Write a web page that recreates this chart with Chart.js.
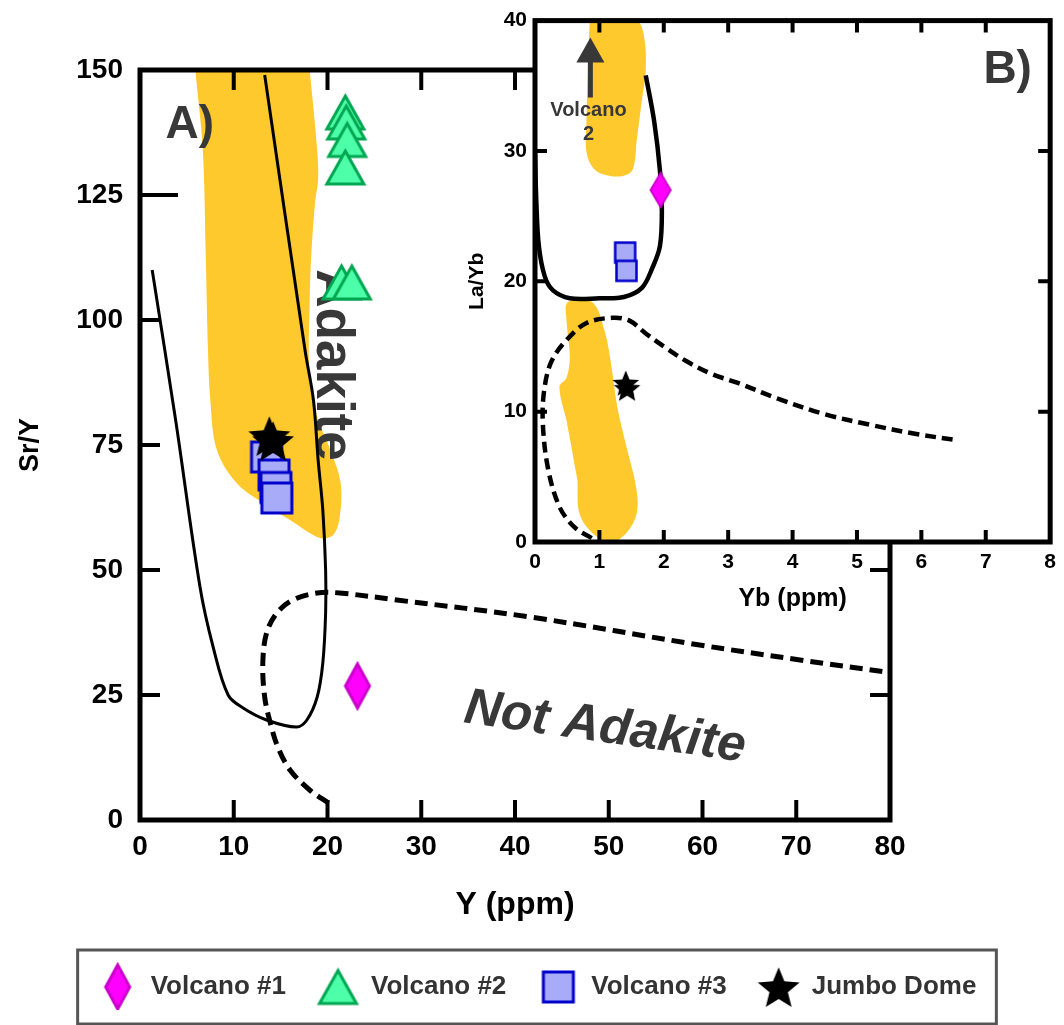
<!DOCTYPE html>
<html>
<head>
<meta charset="utf-8">
<script src="https://cdn.jsdelivr.net/npm/chart.js@4.4.1/dist/chart.umd.min.js"></script>
<style>
    body { margin: 0; background: #fff; }
    #wrap { position: relative; width: 1064px; height: 1025px; }
    #chartA { position: absolute; left: 0; top: 0; }
    #chartB { position: absolute; left: 440px; top: 0; }
</style>
</head>
<body>
<div id="wrap">
    <canvas id="chartA" width="1064" height="1025"></canvas>
    <canvas id="chartB" width="624" height="640"></canvas>
</div>
<script>
/*
* Данные панели A: Y (ppm) - Sr/Y
*/
const volcano1A = [{x: 23.2, y: 26.8}];
const volcano2A = [
    {x: 21.9, y: 141.5}, {x: 22.0, y: 139.5}, {x: 22.1, y: 136},
    {x: 21.9, y: 130.5}, {x: 21.5, y: 107.5}, {x: 22.6, y: 107.5}
];
const volcano3A = [{x: 13.5, y: 72.6}, {x: 14.3, y: 69}, {x: 14.5, y: 66.5}, {x: 14.6, y: 64.4}];
const jumboA = [{x: 13.8, y: 76.8}, {x: 14.2, y: 75.8}];

// жёлтое поле
const fieldA = [
    {x: 5.9, y: 150}, {x: 6.7, y: 134}, {x: 7.0, y: 114}, {x: 7.25, y: 94}, {x: 7.5, y: 84},
    {x: 8.2, y: 74}, {x: 10.3, y: 67.4}, {x: 13.1, y: 63.4}, {x: 16, y: 60}, {x: 19.2, y: 56.4},
    {x: 20.6, y: 57}, {x: 21.3, y: 60.6}, {x: 21.4, y: 67.4}, {x: 20.3, y: 74}, {x: 18.9, y: 80.6},
    {x: 18.1, y: 88}, {x: 18.1, y: 104}, {x: 18.3, y: 114}, {x: 18.7, y: 124}, {x: 19, y: 128},
    {x: 18.9, y: 134}, {x: 18.1, y: 150}
];
// граница адакитов (сплошная)
const adakiteLineA = [
    {x: 1.3, y: 110}, {x: 3.8, y: 80}, {x: 6.4, y: 46.6}, {x: 7.8, y: 34.6}, {x: 9.4, y: 25},
    {x: 11, y: 22.4}, {x: 13.5, y: 20}, {x: 16.7, y: 18.6}, {x: 17.8, y: 20}, {x: 18.9, y: 24.6},
    {x: 19.5, y: 31.4}, {x: 19.8, y: 41.4}, {x: 19.8, y: 50}, {x: 19.5, y: 62}, {x: 19, y: 72},
    {x: 18.5, y: 84}, {x: 17.6, y: 94}, {x: 13.3, y: 149}
];
// граница неадакитов (пунктир)
const notAdakiteLineA = [
    {x: 20.1, y: 3.4}, {x: 18.1, y: 6}, {x: 16, y: 10}, {x: 14.7, y: 14.6}, {x: 13.9, y: 19.4},
    {x: 13.3, y: 24.6}, {x: 13.1, y: 31.4}, {x: 13.5, y: 37.4}, {x: 14.6, y: 41.4}, {x: 16.3, y: 44},
    {x: 18.9, y: 45.4}, {x: 21.3, y: 45.4}, {x: 27.4, y: 44}, {x: 41.6, y: 40.6}, {x: 59.7, y: 35},
    {x: 70.4, y: 32}, {x: 80, y: 29.5}
];

/*
* Данные панели B: Yb (ppm) - La/Yb
*/
const volcano1B = [{x: 1.95, y: 27}];
const volcano3B = [{x: 1.4, y: 22.2}, {x: 1.42, y: 20.8}];
const jumboB = [{x: 1.41, y: 12.2}, {x: 1.43, y: 11.8}];

const volcano2FieldB = [
    {x: 0.85, y: 40}, {x: 1.57, y: 40}, {x: 1.69, y: 38.9}, {x: 1.72, y: 36.2}, {x: 1.66, y: 33.9},
    {x: 1.58, y: 30.8}, {x: 1.52, y: 28.6}, {x: 1.38, y: 28.1}, {x: 1.15, y: 28.1}, {x: 0.92, y: 28.6},
    {x: 0.8, y: 29.9}, {x: 0.8, y: 32.3}, {x: 0.82, y: 36.2}, {x: 0.85, y: 40}
];
const lowerFieldB = [
    {x: 0.66, y: 4.7}, {x: 0.69, y: 2.2}, {x: 0.89, y: 0.7}, {x: 1.18, y: 0}, {x: 1.42, y: 0.7},
    {x: 1.58, y: 2.2}, {x: 1.57, y: 4.2}, {x: 1.42, y: 7.3}, {x: 1.28, y: 10.3}, {x: 1.18, y: 13.7},
    {x: 1.08, y: 16.2}, {x: 0.89, y: 18.4}, {x: 0.51, y: 18.4}, {x: 0.49, y: 17}, {x: 0.54, y: 14.2},
    {x: 0.49, y: 12.6}, {x: 0.38, y: 11.9}, {x: 0.49, y: 9.3}, {x: 0.66, y: 4.7}
];
const adakiteLineB = [
    {x: 1.72, y: 35.8}, {x: 1.85, y: 32.3}, {x: 1.94, y: 28.5}, {x: 1.97, y: 25.4}, {x: 1.94, y: 22.7},
    {x: 1.82, y: 21}, {x: 1.66, y: 19.5}, {x: 1.38, y: 18.8}, {x: 1.0, y: 18.7}, {x: 0.54, y: 18.7},
    {x: 0.28, y: 19.3}, {x: 0.15, y: 20.4}, {x: 0.06, y: 22.7}, {x: 0.02, y: 26.2}, {x: 0, y: 30}
];
const notAdakiteLineB = [
    {x: 0.88, y: 0.3}, {x: 0.62, y: 1.1}, {x: 0.38, y: 2.7}, {x: 0.2, y: 5.7}, {x: 0.12, y: 9.3},
    {x: 0.15, y: 11.9}, {x: 0.26, y: 13.9}, {x: 0.49, y: 15.5}, {x: 0.8, y: 16.8}, {x: 1.2, y: 17.2},
    {x: 1.46, y: 17}, {x: 1.72, y: 16}, {x: 2.03, y: 14.9}, {x: 2.34, y: 13.9}, {x: 2.74, y: 12.9},
    {x: 3.15, y: 12.2}, {x: 3.77, y: 11}, {x: 4.5, y: 9.8}, {x: 5.2, y: 9}, {x: 5.9, y: 8.3},
    {x: 6.57, y: 7.8}
];

// подписи
const notesA = [
    {text: 'A)', x: 5.3, y: 139, size: 46},
    {text: 'Adakite', x: 20.4, y: 91, size: 53, rot: 90},
    {text: 'Not Adakite', x: 49.6, y: 18.4, size: 51, rot: 8, italic: true}
];
const notesB = [
    {text: 'B)', x: 7.34, y: 36.2, size: 46},
    {text: 'Volcano', x: 0.83, y: 33.1, size: 20},
    {text: '2', x: 0.83, y: 31.3, size: 20}
];
const arrowsB = [{x: 0.86, from: 34.1, to: 38.7}];

const FONT = '"Liberation Sans", Arial, sans-serif';
const ORANGE = '#FEC92C';
const NOTE_COLOR = '#383838';

Chart.defaults.font.family = FONT;
Chart.defaults.color = '#000';

/*
* Маркеры рисуем на отдельном canvas
*/
function marker(shape, w, h, fill, stroke, lw) {
    const pad = lw + 2;
    const c = document.createElement('canvas');
    c.width = Math.ceil(w + pad * 2);
    c.height = Math.ceil(h + pad * 2);
    const ctx = c.getContext('2d');
    ctx.translate(c.width / 2, c.height / 2);
    ctx.beginPath();
    if (shape === 'diamond') {
        ctx.moveTo(0, -h / 2); ctx.lineTo(w / 2, 0); ctx.lineTo(0, h / 2); ctx.lineTo(-w / 2, 0);
    } else if (shape === 'triangle') {
        ctx.moveTo(0, -h / 2); ctx.lineTo(w / 2, h / 2); ctx.lineTo(-w / 2, h / 2);
    } else if (shape === 'square') {
        ctx.rect(-w / 2, -h / 2, w, h);
    } else if (shape === 'star') {
        for (let i = 0; i < 10; i++) {
            const r = i % 2 ? w * 0.22 : w / 2;
            const a = -Math.PI / 2 + i * Math.PI / 5;
            ctx.lineTo(Math.cos(a) * r, Math.sin(a) * r + w * 0.05);
        }
    }
    ctx.closePath();
    ctx.fillStyle = fill;
    ctx.fill();
    if (lw) {
        ctx.lineWidth = lw;
        ctx.strokeStyle = stroke;
        ctx.lineJoin = 'miter';
        ctx.stroke();
    }
    return c;
}

/*
* Рамка графика и внутренние засечки
*/
const frameTicks = {
    id: 'frameTicks',
    beforeDraw(chart, args, opts) {
        if (!opts.background) return;
        const a = chart.chartArea;
        chart.ctx.save();
        chart.ctx.fillStyle = opts.background;
        chart.ctx.fillRect(a.left, a.top, a.width, a.height);
        chart.ctx.restore();
    },
    afterDraw(chart, args, opts) {
        const {ctx, chartArea: a} = chart;
        const x = chart.scales.x, y = chart.scales.y;
        ctx.save();
        ctx.strokeStyle = '#000';
        ctx.lineWidth = opts.tickWidth;
        ctx.beginPath();
        x.ticks.forEach(t => {
            if (t.value <= x.min || t.value >= x.max) return;
            const p = x.getPixelForValue(t.value);
            ctx.moveTo(p, a.bottom); ctx.lineTo(p, a.bottom - opts.len);
            ctx.moveTo(p, a.top); ctx.lineTo(p, a.top + opts.len);
        });
        y.ticks.forEach(t => {
            if (t.value <= y.min || t.value >= y.max) return;
            const p = y.getPixelForValue(t.value);
            const len = opts.longTick === t.value ? opts.longLen : opts.len;
            ctx.moveTo(a.left, p); ctx.lineTo(a.left + len, p);
            ctx.moveTo(a.right, p); ctx.lineTo(a.right - opts.len, p);
        });
        ctx.stroke();
        ctx.lineWidth = opts.width;
        ctx.lineJoin = 'miter';
        ctx.strokeRect(a.left, a.top, a.width, a.height);

        // рамка вокруг легенды
        const lg = chart.legend;
        if (opts.legendFrame && lg && lg.legendHitBoxes.length) {
            const hb = lg.legendHitBoxes;
            const left = hb[0].left - opts.legendFrame.x;
            const right = hb[hb.length - 1].left + hb[hb.length - 1].width + opts.legendFrame.x;
            const top = hb[0].top - opts.legendFrame.y;
            const bottom = hb[0].top + hb[0].height + opts.legendFrame.y;
            ctx.strokeStyle = '#555';
            ctx.lineWidth = 3;
            ctx.strokeRect(left, top, right - left, bottom - top);
        }
        ctx.restore();
    }
};

/*
* Текстовые подписи и стрелка поверх жёлтого поля
*/
const notes = {
    id: 'notes',
    afterDatasetDraw(chart, args, opts) {
        if (args.index !== opts.after) return;
        const {ctx} = chart;
        const x = chart.scales.x, y = chart.scales.y;
        ctx.save();
        ctx.fillStyle = NOTE_COLOR;
        ctx.textAlign = 'center';
        ctx.textBaseline = 'middle';
        (opts.items || []).forEach(n => {
            ctx.save();
            ctx.translate(x.getPixelForValue(n.x), y.getPixelForValue(n.y));
            ctx.rotate((n.rot || 0) * Math.PI / 180);
            ctx.font = (n.italic ? 'italic ' : '') + 'bold ' + n.size + 'px ' + FONT;
            ctx.fillText(n.text, 0, 0);
            ctx.restore();
        });
        (opts.arrows || []).forEach(ar => {
            const px = x.getPixelForValue(ar.x);
            const p0 = y.getPixelForValue(ar.from);
            const p1 = y.getPixelForValue(ar.to);
            ctx.strokeStyle = NOTE_COLOR;
            ctx.lineWidth = 5;
            ctx.beginPath();
            ctx.moveTo(px, p0); ctx.lineTo(px, p1 + 20);
            ctx.stroke();
            ctx.beginPath();
            ctx.moveTo(px, p1); ctx.lineTo(px + 14, p1 + 25); ctx.lineTo(px - 14, p1 + 25);
            ctx.closePath();
            ctx.fill();
        });
        ctx.restore();
    }
};

function shape(data, opts) {
    return Object.assign({
        type: 'line',
        data: data,
        pointRadius: 0,
        borderColor: '#000',
        tension: 0.35
    }, opts);
}

document.addEventListener('DOMContentLoaded', () => {

    /*
    * Панель A
    */
    new Chart(document.querySelector('#chartA'), {
        type: 'scatter',
        data: {
            datasets: [
                {label: 'Volcano #1', data: volcano1A, pointStyle: marker('diamond', 24, 44, '#FF00FF', '#CC00CC', 3), order: 0},
                {label: 'Volcano #2', data: volcano2A, pointStyle: marker('triangle', 37, 33, '#4DFFA8', '#00A651', 3), order: 0},
                {label: 'Volcano #3', data: volcano3A, pointStyle: marker('square', 30, 30, '#A8ABF7', '#0000CC', 3), order: 0},
                {label: 'Jumbo Dome', data: jumboA, pointStyle: marker('star', 44, 44, '#000', '#000', 0), order: -1},
                shape(fieldA, {label: 'field', backgroundColor: ORANGE, borderWidth: 0, fill: 'shape', order: 3}),
                shape(adakiteLineA, {label: 'adakite', borderWidth: 3, order: 1}),
                shape(notAdakiteLineA, {label: 'not adakite', borderWidth: 5, borderDash: [13, 7], order: 2})
            ]
        },
        options: {
            responsive: false,
            animation: false,
            devicePixelRatio: 1,
            events: [],
            layout: {padding: {top: 70, left: 10, right: 0, bottom: 15}},
            scales: {
                x: {
                    type: 'linear', min: 0, max: 80,
                    ticks: {stepSize: 10, padding: 10, font: {size: 28, weight: 'bold'}},
                    grid: {display: false, drawTicks: false},
                    border: {display: false},
                    title: {display: true, text: 'Y (ppm)', font: {size: 32, weight: 'bold'}, padding: {top: 0, bottom: 18}},
                    afterFit: s => { s.height = 122; }
                },
                y: {
                    type: 'linear', min: 0, max: 150,
                    ticks: {stepSize: 25, padding: 17, font: {size: 28, weight: 'bold'}},
                    grid: {display: false, drawTicks: false},
                    border: {display: false},
                    title: {display: true, text: 'Sr/Y', font: {size: 27, weight: 'bold'}, padding: {top: 4, bottom: 0}},
                    afterFit: s => { s.width = 130; }
                },
                // место справа под вставку B
                y2: {
                    position: 'right',
                    ticks: {display: false},
                    grid: {display: false},
                    border: {display: false},
                    afterFit: s => { s.width = 174; }
                }
            },
            plugins: {
                tooltip: {enabled: false},
                legend: {
                    position: 'bottom',
                    labels: {
                        usePointStyle: true,
                        pointStyleWidth: 40,
                        padding: 32,
                        color: '#333',
                        font: {size: 26, weight: 'bold'},
                        filter: item => item.datasetIndex < 4,
                        sort: (a, b) => a.datasetIndex - b.datasetIndex
                    }
                },
                frameTicks: {width: 5, tickWidth: 4, len: 20, longTick: 125, longLen: 38, legendFrame: {x: 20, y: 24}},
                notes: {after: 4, items: notesA}
            }
        },
        plugins: [frameTicks, notes]
    });

    /*
    * Панель B (вставка)
    */
    new Chart(document.querySelector('#chartB'), {
        type: 'scatter',
        data: {
            datasets: [
                {label: 'Volcano #1', data: volcano1B, pointStyle: marker('diamond', 20, 34, '#FF00FF', '#CC00CC', 2), order: 0},
                {label: 'Volcano #3', data: volcano3B, pointStyle: marker('square', 20, 20, '#A8ABF7', '#0000CC', 2.5), order: 0},
                {label: 'Jumbo Dome', data: jumboB, pointStyle: marker('star', 28, 28, '#000', '#000', 0), order: -1},
                shape(volcano2FieldB, {label: 'field 1', backgroundColor: ORANGE, borderWidth: 0, fill: 'shape', order: 4}),
                shape(lowerFieldB, {label: 'field 2', backgroundColor: ORANGE, borderWidth: 0, fill: 'shape', order: 3}),
                shape(adakiteLineB, {label: 'adakite', borderWidth: 4.5, order: 1}),
                shape(notAdakiteLineB, {label: 'not adakite', borderWidth: 4.5, borderDash: [11, 6], order: 2})
            ]
        },
        options: {
            responsive: false,
            animation: false,
            devicePixelRatio: 1,
            events: [],
            layout: {padding: {top: 20, left: 0, right: 9, bottom: 0}},
            scales: {
                x: {
                    type: 'linear', min: 0, max: 8,
                    ticks: {stepSize: 1, padding: 8, font: {size: 21, weight: 'bold'}},
                    grid: {display: false, drawTicks: false},
                    border: {display: false},
                    title: {display: true, text: 'Yb (ppm)', font: {size: 25, weight: 'bold'}, padding: {top: 0, bottom: 26}},
                    afterFit: s => { s.height = 98; }
                },
                y: {
                    type: 'linear', min: 0, max: 40,
                    ticks: {stepSize: 10, padding: 8, font: {size: 21, weight: 'bold'}},
                    grid: {display: false, drawTicks: false},
                    border: {display: false},
                    title: {display: true, text: 'La/Yb', font: {size: 21, weight: 'bold'}, padding: {top: 25, bottom: 0}},
                    afterFit: s => { s.width = 95; }
                }
            },
            plugins: {
                tooltip: {enabled: false},
                legend: {display: false},
                frameTicks: {background: '#fff', width: 5, tickWidth: 4, len: 12},
                notes: {after: 3, items: notesB, arrows: arrowsB}
            }
        },
        plugins: [frameTicks, notes]
    });
})
</script>
</body>
</html>
